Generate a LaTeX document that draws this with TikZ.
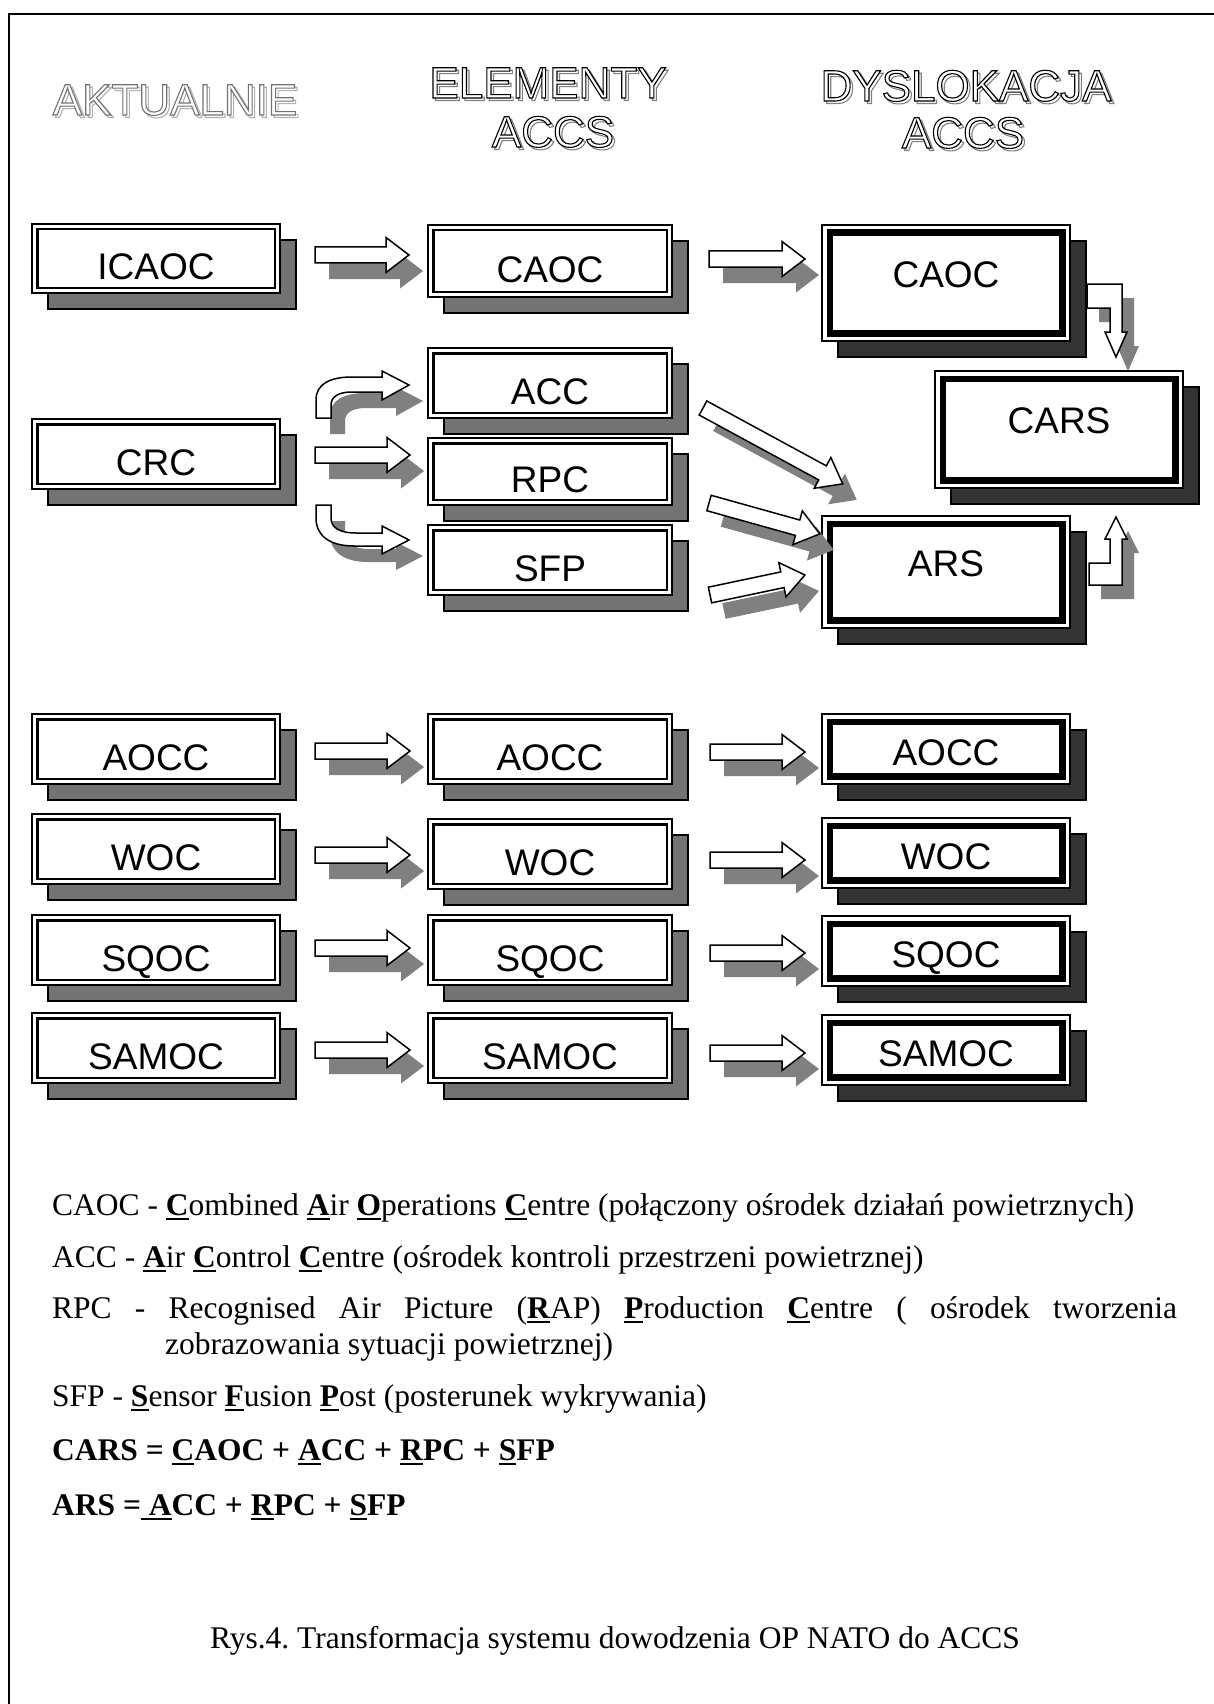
\documentclass[tikz,border=0pt]{standalone}
\usepackage{fontspec}
\setmainfont{Liberation Serif}
\newfontfamily\unitfont{Liberation Sans}
\usetikzlibrary{shadows}
\frenchspacing

% underlined (bold) initial letter of an abbreviation
\newcommand{\firstletter}[1]{\setbox0=\hbox{\textbf{#1}}\rlap{\rule[-5pt]{\wd0}{2pt}}\box0}
% hollow heading letters with an offset shadow outline
\newcommand{\hollowword}[3]{%
  \special{pdf:literal direct 1 Tr 1.1 w #2 G}\rlap{\kern2.5pt\raisebox{-2.5pt}{#3}}%
  \special{pdf:literal direct 2 Tr 1 g #1 G}#3%
  \special{pdf:literal direct 0 Tr 0 g 0 G}}
% block arrow: tail x, tail y, angle, length
\newcommand{\fatarrow}[4]{%
  \fill[arrowshadow, shift={(#1+14,#2+16)}, rotate=#3]
    (0,-8) -- (#4-23,-8) -- (#4-23,-17.5) -- (#4,0) -- (#4-23,17.5) -- (#4-23,8) -- (0,8) -- cycle;
  \filldraw[arrowbody, shift={(#1,#2)}, rotate=#3]
    (0,-8) -- (#4-23,-8) -- (#4-23,-17.5) -- (#4,0) -- (#4-23,17.5) -- (#4-23,8) -- (0,8) -- cycle;
}

\begin{document}
\begin{tikzpicture}[x=1pt, y=-1pt,
  plainbox/.style={draw, line width=1.5pt, fill=white, inner sep=0pt,
    font=\unitfont\fontsize{37pt}{40pt}\selectfont, text height=42.5pt, text depth=0pt,
    drop shadow={shadow xshift=16pt, shadow yshift=-16pt, fill=black!55, draw=black, line width=1.2pt, opacity=1},
    path picture={\draw[line width=2.4pt] ([shift={(5.3pt,-5.3pt)}]path picture bounding box.north west)
      rectangle ([shift={(-5.3pt,5.3pt)}]path picture bounding box.south east);}},
  dyslbox/.style={draw, line width=1.5pt, fill=white, inner sep=0pt,
    font=\unitfont\fontsize{37pt}{40pt}\selectfont, text height=32.5pt, text depth=0pt,
    drop shadow={shadow xshift=16pt, shadow yshift=-16pt, fill=black!80, draw=black, line width=1.2pt, opacity=1},
    path picture={\draw[line width=6.6pt] ([shift={(7.8pt,-7.8pt)}]path picture bounding box.north west)
      rectangle ([shift={(-7.8pt,7.8pt)}]path picture bounding box.south east);}},
  tallbox/.style={text height=26.5pt, text depth=18pt},
  arrowbody/.style={fill=white, draw=black, line width=1.5pt},
  arrowshadow/.style={fill=black!50},
  headtext/.style={font=\unitfont\fontsize{44pt}{49pt}\selectfont, align=center, inner sep=0pt},
  legendline/.style={font=\fontsize{31.5pt}{36pt}\selectfont, inner sep=0pt, anchor=base west}]

\useasboundingbox (0,0) rectangle (1214,1704);
\draw[line width=2pt] (9,1704) -- (9,14) -- (1214,14);

% --- COLUMN HEADINGS ---
\node[headtext, anchor=base] (haktualnie) at (175,115) {\hollowword{0.45}{0.7}{AKTUALNIE}};
\node[headtext, anchor=base] (helementy) at (548,98) {\hollowword{0}{0.5}{ELEMENTY}};
\node[headtext, anchor=base] (helaccs) at (553,147) {\hollowword{0}{0.5}{ACCS}};
\node[headtext, anchor=base] (hdyslokacja) at (966,101) {\hollowword{0}{0.5}{DYSLOKACJA}};
\node[headtext, anchor=base] (hdyaccs) at (963,148) {\hollowword{0}{0.5}{ACCS}};

% --- AKTUALNIE ---
\node[plainbox, minimum width=248pt, minimum height=69pt] (aicaoc) at (156,258.5) {ICAOC};
\node[plainbox, minimum width=248pt, minimum height=70pt] (acrc) at (156,454) {CRC};

% --- ELEMENTY ACCS ---
\node[plainbox, minimum width=244pt, minimum height=72pt] (ecaoc) at (550,261) {CAOC};
\node[plainbox, minimum width=244pt, minimum height=70pt] (eacc) at (550,383) {ACC};
\node[plainbox, minimum width=244pt, minimum height=67pt] (erpc) at (550,471.5) {RPC};
\node[plainbox, minimum width=244pt, minimum height=70pt] (esfp) at (550,560) {SFP};

% --- DYSLOKACJA ACCS ---
\node[dyslbox, tallbox, minimum width=248pt, minimum height=116pt] (dcaoc) at (946,283) {CAOC};
\node[dyslbox, tallbox, minimum width=248pt, minimum height=117pt] (dcars) at (1059,429.5) {CARS};
\node[dyslbox, tallbox, minimum width=248pt, minimum height=112pt] (dars) at (946,572) {ARS};

% --- TOP BLOCK ARROWS ---
\fatarrow{315}{255}{0}{94}
\fatarrow{709}{259}{0}{96}
\fatarrow{315}{455}{0}{95}
\fatarrow{703}{408}{-28.5}{159}
\fatarrow{709}{503}{-15.6}{115}
\fatarrow{710}{595}{11.9}{97}

% CRC -> ACC (curved up)
\fill[arrowshadow, shift={(14,16)}] (316,418) -- (316,400) .. controls (316,384) and (330,377) .. (352,377)
  -- (382,377) -- (382,371) -- (409,385) -- (382,400) -- (382,392) -- (352,392)
  .. controls (338,392) and (331,397) .. (331,405) -- (331,418) -- cycle;
\filldraw[arrowbody] (316,418) -- (316,400) .. controls (316,384) and (330,377) .. (352,377)
  -- (382,377) -- (382,371) -- (409,385) -- (382,400) -- (382,392) -- (352,392)
  .. controls (338,392) and (331,397) .. (331,405) -- (331,418) -- cycle;
% CRC -> SFP (curved down)
\fill[arrowshadow, shift={(14,16)}] (316,505) -- (316,518) .. controls (316,536) and (330,546) .. (354,546)
  -- (382,546) -- (382,554) -- (409,540) -- (382,526) -- (382,533) -- (356,533)
  .. controls (340,533) and (331,528) .. (331,518) -- (331,505) -- cycle;
\filldraw[arrowbody] (316,505) -- (316,518) .. controls (316,536) and (330,546) .. (354,546)
  -- (382,546) -- (382,554) -- (409,540) -- (382,526) -- (382,533) -- (356,533)
  .. controls (340,533) and (331,528) .. (331,518) -- (331,505) -- cycle;

% CAOC -> CARS and ARS -> CARS (bent)
\fill[arrowshadow, shift={(12,14)}] (1087,284) -- (1122,284) -- (1122,332) -- (1127,332) -- (1116,357)
  -- (1105,332) -- (1110,332) -- (1110,308) -- (1087,308) -- cycle;
\filldraw[arrowbody] (1087,284) -- (1122,284) -- (1122,332) -- (1127,332) -- (1116,357)
  -- (1105,332) -- (1110,332) -- (1110,308) -- (1087,308) -- cycle;
\fill[arrowshadow, shift={(12,14)}] (1089,563) -- (1110,563) -- (1110,539) -- (1105,539) -- (1116,517)
  -- (1127,539) -- (1122,539) -- (1122,585) -- (1089,585) -- cycle;
\filldraw[arrowbody] (1089,563) -- (1110,563) -- (1110,539) -- (1105,539) -- (1116,517)
  -- (1127,539) -- (1122,539) -- (1122,585) -- (1089,585) -- cycle;

% --- OPERATIONAL CENTRES (three columns) ---
\foreach \name/\ya/\yb/\yc/\pa/\pb in {AOCC/749/749/749/751/752, WOC/849/854/853/855/860,
    SQOC/950/950/951/948/953, SAMOC/1048/1048/1050/1050/1053} {
  \node[plainbox, minimum width=248pt, minimum height=70pt] (a\name) at (156,\ya) {\name};
  \node[plainbox, minimum width=244pt, minimum height=70pt] (e\name) at (550,\yb) {\name};
  \node[dyslbox, minimum width=248pt, minimum height=70pt] (d\name) at (946,\yc) {\name};
  \fatarrow{315}{\pa}{0}{95}
  \fatarrow{710}{\pb}{0}{95}
}

% --- LEGEND ---
\node[legendline] (lcaoc) at (52,1215) {CAOC - \firstletter{C}ombined \firstletter{A}ir \firstletter{O}perations \firstletter{C}entre (połączony ośrodek działań powietrznych)};
\node[legendline] (lacc) at (52,1267) {ACC - \firstletter{A}ir \firstletter{C}ontrol \firstletter{C}entre (ośrodek kontroli przestrzeni powietrznej)};
\node[legendline] (lrpc) at (52,1318) {\makebox[1125pt][s]{RPC - Recognised Air Picture (\firstletter{R}AP) \firstletter{P}roduction \firstletter{C}entre ( ośrodek tworzenia}};
\node[legendline] (lrpcb) at (165,1354) {zobrazowania sytuacji powietrznej)};
\node[legendline] (lsfp) at (52,1406) {SFP - \firstletter{S}ensor \firstletter{F}usion \firstletter{P}ost (posterunek wykrywania)};
\node[legendline, font=\bfseries\fontsize{31.5pt}{36pt}\selectfont] (lcars) at (52,1460) {CARS = \firstletter{C}AOC + \firstletter{A}CC + \firstletter{R}PC + \firstletter{S}FP};
\node[legendline, font=\bfseries\fontsize{31.5pt}{36pt}\selectfont] (lars) at (52,1515) {ARS =\firstletter{\ A}CC + \firstletter{R}PC + \firstletter{S}FP};

% --- CAPTION ---
\node[legendline, anchor=base] (caption) at (615,1648) {Rys.4. Transformacja systemu dowodzenia OP NATO do ACCS};

\end{tikzpicture}
\end{document}
